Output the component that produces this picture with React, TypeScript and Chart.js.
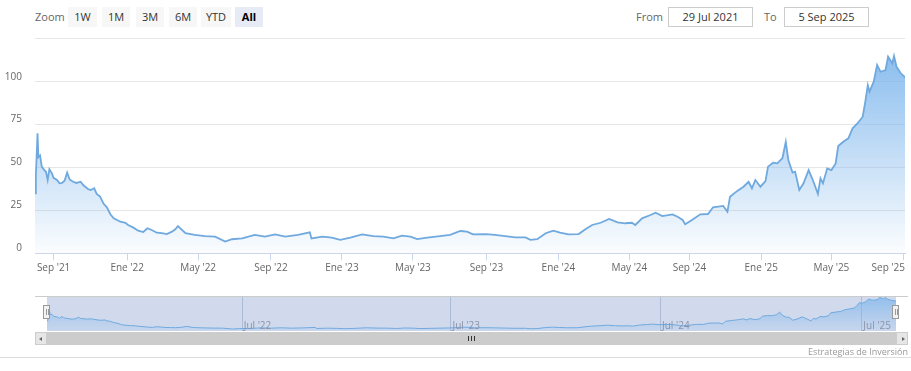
import React, { useEffect, useRef } from "react";
import { Chart, registerables } from "chart.js";
Chart.register(...registerables);

// trading-session index (0 = 29 Jul 2021, 1029 = 5 Sep 2025)
const dayIndex = [
  0, 1, 3, 4, 6, 8, 11, 13, 15, 17, 20, 22, 26, 29, 32, 35, 38, 41, 45, 49,
  54, 57, 63, 66, 70, 73, 77, 81, 85, 89, 93, 97, 101, 107, 110, 116, 122, 128, 133, 138,
  144, 150, 156, 162, 166, 169, 178, 189, 201, 213, 225, 233, 245, 260, 272, 284, 296, 311, 325, 327,
  340, 351, 361, 373, 387, 400, 412, 424, 434, 444, 452, 464, 479, 491, 503, 511, 518, 533, 544, 556,
  568, 580, 586, 594, 604, 613, 621, 631, 643, 651, 659, 669, 679, 689, 698, 706, 710, 718, 728, 734,
  742, 754, 760, 766, 769, 777, 787, 796, 802, 814, 819, 822, 831, 838, 844, 848, 852, 858, 864, 867,
  873, 878, 882, 884, 888, 891, 896, 899, 904, 909, 915, 920, 926, 929, 932, 937, 942, 947, 950, 956,
  962, 967, 973, 979, 982, 985, 987, 992, 996, 1000, 1006, 1009, 1014, 1016, 1019, 1024, 1029,
];
const price = [
  35, 45, 70, 56, 57, 50.5, 48.5, 47.5, 42.7, 49, 46.6, 44, 42.7, 40.8, 41, 42.3, 47, 43, 41.7, 41,
  41.7, 39.8, 37.3, 36.9, 37.9, 34.6, 33, 29, 26.8, 22.9, 20.4, 19.4, 18.4, 17.8, 16.5, 15.1, 13.2, 12.4, 14.6, 13.6,
  12, 11.7, 11.2, 12.6, 14, 15.9, 11.7, 10.7, 10, 9.7, 6.8, 8.2, 8.7, 10.7, 9.7, 11, 9.7, 10.7, 12.2, 8.7,
  9.7, 9.1, 7.8, 9.1, 11, 10, 9.7, 8.7, 10.3, 9.7, 8.3, 9.1, 10, 10.7, 13, 12.6, 11, 11.2, 10.7, 10,
  9.3, 9.3, 7.8, 8.2, 11.7, 13.2, 12, 11, 11.2, 14, 16.5, 17.8, 20, 18, 17.5, 17.8, 16.5, 20.4, 22.3, 23.7,
  21.7, 22.7, 21.3, 19.4, 16.9, 19.4, 22.7, 22.9, 26.8, 27.6, 24.2, 33, 36.5, 38.8, 41.7, 37.9, 42.7, 38.8, 42.1, 50.5,
  52.8, 52.4, 54.4, 55.4, 65, 54.4, 47, 47.6, 36.9, 40.8, 48.5, 42.7, 34.6, 43.7, 40.8, 49.5, 48.5, 52.4, 62.5, 65,
  67, 72.8, 75.8, 79.6, 88.3, 98, 94.2, 100, 109.7, 105.8, 106.8, 114.6, 110.7, 115, 108.7, 104.9, 102.6,
];

const xTickDays = [22, 109, 193, 279, 363, 447, 534, 619, 703, 774, 859, 942, 1027];
const xTickLabels = ["Sep '21", "Ene '22", "May '22", "Sep '22", "Ene '23", "May '23", "Sep '23", "Ene '24", "May '24", "Sep '24", "Ene '25", "May '25", "Sep '25"];
const yTicks = [0, 25, 50, 75, 100, 125];
const navTickDays = [236, 489, 743, 987];
const navTickLabels = ["Jul '22", "Jul '23", "Jul '24", "Jul '25"];
const rangeButtons = ["1W", "1M", "3M", "6M", "YTD", "All"];
const fromDate = "29 Jul 2021";
const toDate = "5 Sep 2025";
const credit = "Estrategias de Inversión";

const LINE = "#6fa9de";
const FONT = "'Open Sans', sans-serif";

function gradient(ctx: any, top: number, bottom: number) {
  const chart = ctx.chart;
  const a = chart.chartArea;
  if (!a) return "rgba(124,181,236,0.3)";
  const g = chart.ctx.createLinearGradient(0, a.top, 0, a.bottom);
  g.addColorStop(0, `rgba(124,181,236,${top})`);
  g.addColorStop(1, `rgba(124,181,236,${bottom})`);
  return g;
}

export default function App() {
  const mainRef = useRef<HTMLCanvasElement>(null);
  const navRef = useRef<HTMLCanvasElement>(null);

  useEffect(() => {
    const pts = dayIndex.map((d, i) => ({ x: d, y: price[i] }));

    // x labels drawn from the x scale, kept inside the plot width (as Highstock does)
    const xLabels = {
      id: "xLabels",
      afterDraw(chart: any) {
        const { ctx, chartArea: a, scales } = chart;
        ctx.save();
        ctx.fillStyle = "#666";
        ctx.font = `10px ${FONT}`;
        ctx.textBaseline = "middle";
        ctx.textAlign = "left";
        xTickDays.forEach((d, i) => {
          const px = scales.x.getPixelForValue(d);
          const w = ctx.measureText(xTickLabels[i]).width;
          let left = px - w / 2;
          if (left + w > a.right) left = a.right - w;
          ctx.fillText(xTickLabels[i], left, a.bottom + 15);
        });
        ctx.restore();
      },
    };

    const main = new Chart(mainRef.current!, {
      type: "line",
      data: {
        datasets: [
          {
            data: pts,
            borderColor: LINE,
            borderWidth: 1.8,
            pointRadius: 0,
            tension: 0,
            fill: "origin",
            backgroundColor: (ctx: any) => gradient(ctx, 0.95, 0.03),
          },
        ],
      },
      options: {
        animation: false,
        responsive: false,
        maintainAspectRatio: false,
        layout: { padding: { top: 38.8, right: 6, left: 0, bottom: 0 } },
        plugins: { legend: { display: false }, tooltip: { enabled: false } },
        scales: {
          x: {
            type: "linear",
            min: 0,
            max: 1029,
            afterBuildTicks: (s: any) => {
              s.ticks = xTickDays.map((v) => ({ value: v }));
            },
            afterFit: (s: any) => {
              s.height = 36.7;
              s.paddingLeft = 0;
              s.paddingRight = 0;
            },
            ticks: { display: false },
            grid: { drawOnChartArea: false, drawTicks: true, tickLength: 7, color: "#ccd6eb" },
            border: { color: "#ccd6eb" },
          },
          y: {
            min: 0,
            max: 125,
            afterBuildTicks: (s: any) => {
              s.ticks = yTicks.map((v) => ({ value: v }));
            },
            afterFit: (s: any) => {
              s.width = 35;
              s.paddingTop = 0;
              s.paddingBottom = 0;
            },
            ticks: {
              callback: (v: any) => (v === 125 ? "" : String(v)),
              color: "#666",
              font: { family: FONT, size: 10 },
              padding: 13,
              labelOffset: -5,
            },
            grid: { color: "#e6e6e6", drawTicks: false },
            border: { display: false },
          },
        },
      } as any,
      plugins: [xLabels],
    });

    const navDecor = {
      id: "navDecor",
      beforeDatasetsDraw(chart: any) {
        const { ctx, chartArea: a, scales } = chart;
        ctx.save();
        ctx.fillStyle = "rgba(102,133,194,0.3)";
        ctx.fillRect(a.left, a.top, a.right - a.left, a.bottom - a.top);
        ctx.strokeStyle = "rgba(150,165,200,0.6)";
        ctx.lineWidth = 1;
        navTickDays.forEach((d) => {
          const x = Math.round(scales.x.getPixelForValue(d)) + 0.5;
          ctx.beginPath();
          ctx.moveTo(x, a.top);
          ctx.lineTo(x, a.bottom);
          ctx.stroke();
        });
        ctx.restore();
      },
      afterDatasetsDraw(chart: any) {
        const { ctx, chartArea: a, scales } = chart;
        ctx.save();
        ctx.fillStyle = "#8a93a8";
        ctx.font = `10px ${FONT}`;
        ctx.textBaseline = "alphabetic";
        ctx.textAlign = "left";
        navTickDays.forEach((d, i) => {
          const x = scales.x.getPixelForValue(d);
          ctx.fillText(navTickLabels[i], x + 2, a.bottom - 2);
        });
        ctx.restore();
      },
    };

    const nav = new Chart(navRef.current!, {
      type: "line",
      data: {
        datasets: [
          {
            data: pts,
            borderColor: LINE,
            borderWidth: 1,
            pointRadius: 0,
            tension: 0,
            fill: "origin",
            backgroundColor: (ctx: any) => gradient(ctx, 0.75, 0.1),
          },
        ],
      },
      options: {
        animation: false,
        responsive: false,
        maintainAspectRatio: false,
        layout: { padding: { top: 6, right: 15, left: 47, bottom: 4 } },
        plugins: { legend: { display: false }, tooltip: { enabled: false } },
        scales: {
          x: { type: "linear", min: 0, max: 1029, display: false },
          y: { min: 0, max: 120, display: false },
        },
      } as any,
      plugins: [navDecor],
    });

    return () => {
      main.destroy();
      nav.destroy();
    };
  }, []);

  const btnLefts = [68, 102, 136, 169, 201, 235];
  const btnWidths = [29, 28, 28, 28, 30, 28];

  const abs = (s: any) => ({ position: "absolute", ...s }) as React.CSSProperties;

  return (
    <div style={abs({ left: 0, top: 0, width: 911, height: 371, background: "#fff", fontFamily: FONT, overflow: "hidden" })}>
      <div style={abs({ left: 35, top: 7, height: 20, lineHeight: "20px", fontSize: 11, color: "#666" })}>Zoom</div>
      {rangeButtons.map((b, i) => (
        <div
          key={b}
          style={abs({
            left: btnLefts[i],
            top: 7,
            width: btnWidths[i],
            height: 20,
            lineHeight: "20px",
            textAlign: "center",
            fontSize: 11,
            color: i === 5 ? "#000" : "#333",
            fontWeight: i === 5 ? 700 : 400,
            background: i === 5 ? "#e6ebf5" : "#f7f7f7",
          })}
        >
          {b}
        </div>
      ))}
      <div style={abs({ left: 636, top: 7, width: 26, height: 20, lineHeight: "20px", fontSize: 11, color: "#666", textAlign: "right" })}>From</div>
      <div style={abs({ left: 668, top: 7, width: 83, height: 18, lineHeight: "18px", fontSize: 11, color: "#333", textAlign: "center", border: "1px solid #cccccc" })}>{fromDate}</div>
      <div style={abs({ left: 764, top: 7, height: 20, lineHeight: "20px", fontSize: 11, color: "#666" })}>To</div>
      <div style={abs({ left: 784, top: 7, width: 83, height: 18, lineHeight: "18px", fontSize: 11, color: "#333", textAlign: "center", border: "1px solid #cccccc" })}>{toDate}</div>

      <canvas ref={mainRef} width={911} height={290} style={abs({ left: 0, top: 0, width: 911, height: 290 })} />
      <canvas ref={navRef} width={911} height={45} style={abs({ left: 0, top: 290, width: 911, height: 45 })} />

      {/* navigator outline */}
      <div style={abs({ left: 35, top: 296, width: 873, height: 1, background: "#cccccc" })} />
      {[47, 896].map((x) => (
        <div key={x} style={abs({ left: x - 4, top: 305, width: 7, height: 14, background: "#f2f2f2", border: "1px solid #999", boxSizing: "border-box" })}>
          <div style={abs({ left: 1.5, top: 3, width: 1, height: 6, background: "#999" })} />
          <div style={abs({ left: 3.5, top: 3, width: 1, height: 6, background: "#999" })} />
        </div>
      ))}

      {/* scrollbar */}
      <div style={abs({ left: 35, top: 332, width: 873, height: 13, background: "#f2f2f2" })} />
      <div style={abs({ left: 47, top: 332, width: 849, height: 13, background: "#cccccc" })} />
      {[468, 471, 474].map((x) => (
        <div key={x} style={abs({ left: x, top: 336, width: 1, height: 5, background: "#333" })} />
      ))}
      <div style={abs({ left: 35, top: 332, width: 12, height: 13, background: "#e6e6e6", border: "1px solid #cccccc", boxSizing: "border-box" })}>
        <div style={abs({ left: 3, top: 3.5, width: 0, height: 0, borderTop: "2.5px solid transparent", borderBottom: "2.5px solid transparent", borderRight: "3px solid #666" })} />
      </div>
      <div style={abs({ left: 896, top: 332, width: 12, height: 13, background: "#e6e6e6", border: "1px solid #cccccc", boxSizing: "border-box" })}>
        <div style={abs({ left: 5, top: 3.5, width: 0, height: 0, borderTop: "2.5px solid transparent", borderBottom: "2.5px solid transparent", borderLeft: "3px solid #666" })} />
      </div>

      <div style={abs({ right: 3, top: 346, fontSize: 9, color: "#999", lineHeight: "11px" })}>{credit}</div>
      <div style={abs({ left: 0, top: 357, width: 911, height: 1, background: "#dddddd" })} />
    </div>
  );
}
